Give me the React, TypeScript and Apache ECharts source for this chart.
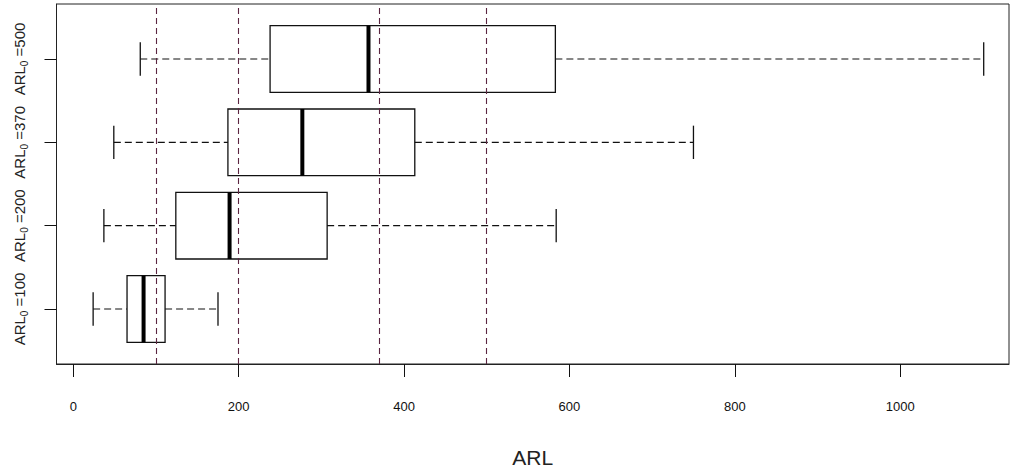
import React, { useEffect, useRef } from "react";
import * as echarts from "echarts";

// ARL0 groups (bottom to top)
const categories = ["100", "200", "370", "500"];
const whiskerLow = [24, 37, 49, 81];
const q1 = [65, 124, 187, 238];
const medians = [85, 189, 277, 357];
const q3 = [111, 307, 413, 583];
const whiskerHigh = [175, 584, 750, 1101];
const referenceLines = [100, 200, 370, 500];
const xTicks = [0, 200, 400, 600, 800, 1000];
const yTicks = [1, 2, 3, 4];

const FONT = "'Liberation Sans', Arial, sans-serif";
const REF_COLOR = "#5a2540";

export default function App() {
  const ref = useRef<HTMLDivElement>(null);

  useEffect(() => {
    document.body.style.margin = "0";
    if (!ref.current) return;
    const chart = echarts.init(ref.current, null, { renderer: "svg" });

    const data = categories.map((_, i) => [
      i + 1,
      whiskerLow[i],
      q1[i],
      medians[i],
      q3[i],
      whiskerHigh[i],
    ]);

    const renderItem = (params: any, api: any) => {
      const yv = api.value(0);
      const pLow = api.coord([api.value(1), yv]);
      const pQ1 = api.coord([api.value(2), yv]);
      const pMed = api.coord([api.value(3), yv]);
      const pQ3 = api.coord([api.value(4), yv]);
      const pHigh = api.coord([api.value(5), yv]);
      const cy = pMed[1];
      const h = api.size([0, 1])[1] * 0.8;
      const cap = h / 2;
      const stroke = "#111";
      return {
        type: "group",
        children: [
          {
            type: "line",
            shape: { x1: pLow[0], y1: cy, x2: pQ1[0], y2: cy },
            style: { stroke, lineWidth: 1.2, lineDash: [7, 4] },
          },
          {
            type: "line",
            shape: { x1: pQ3[0], y1: cy, x2: pHigh[0], y2: cy },
            style: { stroke, lineWidth: 1.2, lineDash: [7, 4] },
          },
          {
            type: "line",
            shape: { x1: pLow[0], y1: cy - cap / 2, x2: pLow[0], y2: cy + cap / 2 },
            style: { stroke, lineWidth: 1.3 },
          },
          {
            type: "line",
            shape: { x1: pHigh[0], y1: cy - cap / 2, x2: pHigh[0], y2: cy + cap / 2 },
            style: { stroke, lineWidth: 1.3 },
          },
          {
            type: "rect",
            shape: { x: pQ1[0], y: cy - h / 2, width: pQ3[0] - pQ1[0], height: h },
            style: { fill: "none", stroke, lineWidth: 1.3 },
          },
          {
            type: "line",
            shape: { x1: pMed[0], y1: cy - h / 2, x2: pMed[0], y2: cy + h / 2 },
            style: { stroke: "#000", lineWidth: 4 },
          },
        ],
      };
    };

    chart.setOption({
      animation: false,
      backgroundColor: "#fff",
      grid: {
        left: 56.5,
        right: 3,
        top: 4,
        bottom: 109,
        show: true,
        borderColor: "#222",
        borderWidth: 1,
        backgroundColor: "transparent",
      },
      xAxis: {
        type: "value",
        position: "bottom",
        min: -20.3,
        max: 1131.6,
        splitLine: { show: false },
        axisLine: { show: true, onZero: false, lineStyle: { color: "#222", width: 1 } },
        axisTick: {
          show: true,
          inside: false,
          customValues: xTicks,
          length: 13,
          lineStyle: { color: "#111", width: 1 },
        },
        axisLabel: {
          customValues: xTicks,
          margin: 36,
          fontSize: 13,
          fontFamily: FONT,
          color: "#111",
          formatter: (v: number) => String(Math.round(v)),
        },
        name: "ARL",
        nameLocation: "middle",
        nameGap: 83,
        nameTextStyle: { fontSize: 21, fontFamily: FONT, color: "#222" },
      },
      yAxis: {
        type: "value",
        position: "left",
        offset: 0,
        min: 0.34,
        max: 4.66,
        splitLine: { show: false },
        axisLine: { show: true, onZero: false, lineStyle: { color: "#222", width: 1 } },
        axisTick: {
          show: true,
          inside: false,
          customValues: yTicks,
          length: 12,
          lineStyle: { color: "#111", width: 1 },
        },
        axisLabel: {
          customValues: yTicks,
          rotate: 90,
          margin: 27,
          fontFamily: FONT,
          color: "#222",
          formatter: (v: number) => `{t|ARL}{s|0}{t| =${categories[Math.round(v) - 1]}}`,
          rich: {
            t: { fontSize: 15, lineHeight: 20, fontFamily: FONT, color: "#222", verticalAlign: "middle" },
            s: { fontSize: 10, lineHeight: 10, fontFamily: FONT, color: "#222", verticalAlign: "bottom" },
          },
        },
      },
      series: [
        {
          type: "custom",
          renderItem,
          data,
          encode: { x: [1, 2, 3, 4, 5], y: 0 },
          z: 2,
        },
        {
          type: "scatter",
          data: [],
          z: 3,
          markLine: {
            silent: true,
            symbol: ["none", "none"],
            label: { show: false },
            lineStyle: { color: REF_COLOR, type: [6, 4], width: 1.1 },
            data: referenceLines.map((v) => ({
              xAxis: v,
              lineStyle: { color: REF_COLOR, type: [6, 4], width: 1.1 },
            })),
          },
        },
      ],
    });

    return () => chart.dispose();
  }, []);

  return <div ref={ref} style={{ width: 1012, height: 473 }} />;
}
